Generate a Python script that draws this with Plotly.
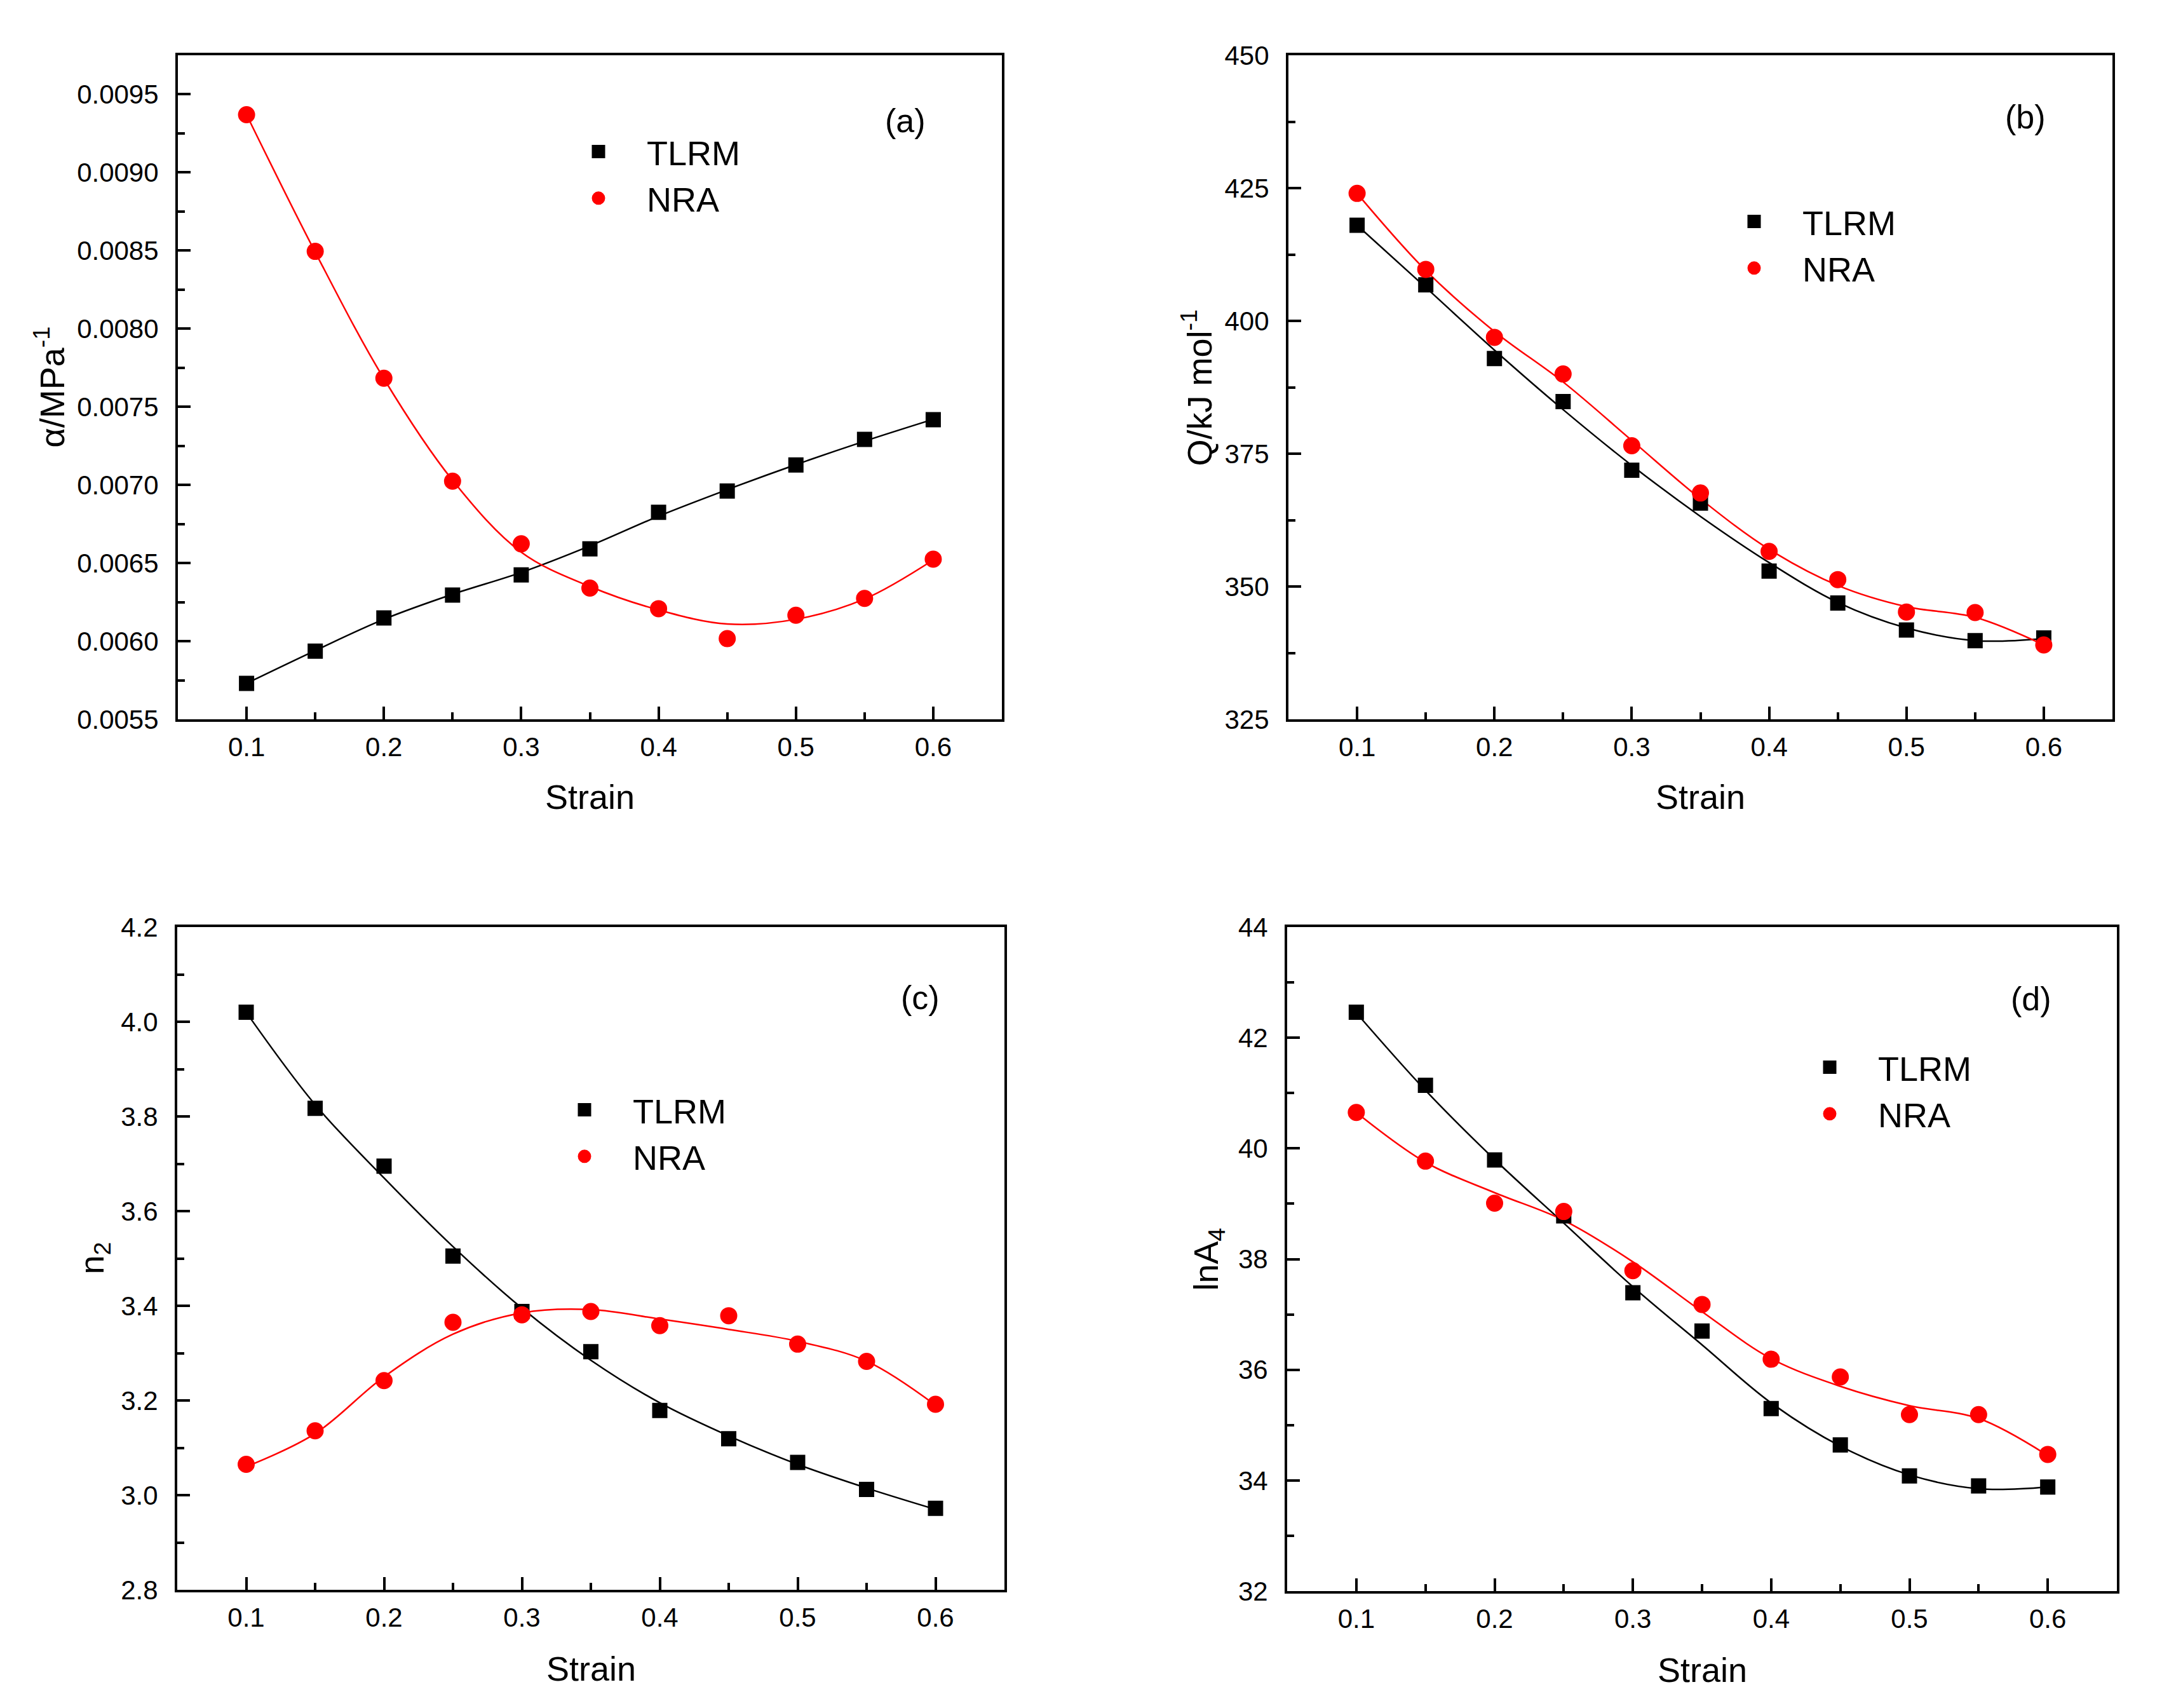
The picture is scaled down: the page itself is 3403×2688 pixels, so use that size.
import plotly.graph_objects as go

# ---------------- data ----------------
strain = [0.1, 0.15, 0.2, 0.25, 0.3, 0.35, 0.4, 0.45, 0.5, 0.55, 0.6]

a_tlrm = [0.00573, 0.005936, 0.006149, 0.006295, 0.006424, 0.006591, 0.006825, 0.006961, 0.007128, 0.007292, 0.007418]
a_tlrm_fit = [0.00573, 0.00594, 0.00614, 0.00630, 0.00644, 0.00661, 0.00680, 0.00697, 0.00713, 0.00728, 0.00742]
a_nra = [0.00937, 0.008495, 0.007683, 0.007024, 0.006623, 0.00634, 0.006208, 0.006016, 0.006166, 0.006274, 0.006525]
a_nra_fit = [0.00937, 0.00849, 0.00768, 0.00703, 0.00657, 0.00635, 0.00620, 0.00611, 0.00614, 0.00627, 0.00652]

b_tlrm = [418, 406.8, 392.9, 384.8, 371.9, 365.7, 352.9, 346.9, 341.8, 339.8, 340.3]
b_tlrm_fit = [418, 406.3, 394.5, 383.3, 372.8, 363.2, 354.5, 347.0, 342.2, 339.8, 340.2]
b_nra = [424, 409.7, 396.9, 390, 376.5, 367.6, 356.6, 351.3, 345.2, 345.1, 339]
b_nra_fit = [424, 409.5, 398, 388.5, 377.5, 366.5, 357, 350.2, 346.2, 344.2, 339]

c_tlrm = [4.020, 3.817, 3.695, 3.505, 3.388, 3.303, 3.179, 3.119, 3.069, 3.012, 2.972]
c_tlrm_fit = [4.02, 3.825, 3.67, 3.525, 3.395, 3.285, 3.195, 3.125, 3.065, 3.015, 2.97]
c_nra = [3.065, 3.136, 3.242, 3.365, 3.381, 3.388, 3.358, 3.379, 3.319, 3.2825, 3.192]
c_nra_fit = [3.06, 3.13, 3.25, 3.34, 3.385, 3.392, 3.372, 3.35, 3.325, 3.283, 3.19]

d_tlrm = [42.46, 41.14, 39.79, 38.78, 37.39, 36.70, 35.30, 34.64, 34.08, 33.90, 33.88]
d_tlrm_fit = [42.45, 41.05, 39.8, 38.65, 37.5, 36.45, 35.4, 34.62, 34.1, 33.85, 33.88]
d_nra = [40.65, 39.77, 39.01, 38.86, 37.79, 37.18, 36.19, 35.87, 35.19, 35.19, 34.47]
d_nra_fit = [40.65, 39.75, 39.2, 38.7, 37.95, 37.05, 36.2, 35.7, 35.35, 35.12, 34.45]

series_names = ["TLRM", "NRA"]
panel_labels = ["(a)", "(b)", "(c)", "(d)"]
y_titles = ["α/MPa<sup>-1</sup>", "Q/kJ mol<sup>-1</sup>", "n<sub>2</sub>", "lnA<sub>4</sub>"]
x_title = "Strain"

y_ranges = [[0.0055, 0.00975], [325, 450], [2.8, 4.2], [32, 44]]
y_dticks = [0.0005, 25, 0.2, 2]
y_formats = [".4f", "d", ".1f", "d"]

# ---------------- layout geometry ----------------
W, H = 3403, 2688
OFF = 8  # page body margin offset of the rendered figure
FONT = "Arial, Liberation Sans, Helvetica, sans-serif"

def px_x(v):
    return (v - OFF) / W

def px_y(v):
    return 1 - (v - OFF) / H

# panel boxes in screen pixels: left, right, top, bottom
boxes = [(280, 1577, 87, 1132), (2028, 3325, 87, 1132),
         (279, 1581, 1459, 2502), (2026, 3332, 1459, 2504)]
ytitle_x = [79, 1885, 147, 1901]
xtitle_y = [1254, 1254, 2626, 2628]
label_pos = [(1425, 190), (3188, 184), (1448, 1570), (3197, 1572)]
legend_marker = [(942, 244), (2761, 354), (920, 1752), (2880, 1685)]

panels = [
    (a_tlrm, a_tlrm_fit, a_nra, a_nra_fit),
    (b_tlrm, b_tlrm_fit, b_nra, b_nra_fit),
    (c_tlrm, c_tlrm_fit, c_nra, c_nra_fit),
    (d_tlrm, d_tlrm_fit, d_nra, d_nra_fit),
]

fig = go.Figure()
annotations = []
layout_extra = {}

for i, (t, tf, n, nf) in enumerate(panels):
    k = "" if i == 0 else str(i + 1)
    xa, ya = "x" + k, "y" + k
    leg = "legend" if i == 0 else "legend" + str(i + 1)
    # fit lines
    fig.add_trace(go.Scatter(x=strain, y=tf, mode="lines", line=dict(color="black", width=2.5, shape="spline"),
                             xaxis=xa, yaxis=ya, showlegend=False, hoverinfo="skip"))
    fig.add_trace(go.Scatter(x=strain, y=nf, mode="lines", line=dict(color="red", width=2.5, shape="spline"),
                             xaxis=xa, yaxis=ya, showlegend=False, hoverinfo="skip"))
    # markers
    fig.add_trace(go.Scatter(x=strain, y=t, mode="markers", name=series_names[0],
                             marker=dict(symbol="square", size=19, color="black", line=dict(color="black", width=5)),
                             xaxis=xa, yaxis=ya, legend=leg))
    fig.add_trace(go.Scatter(x=strain, y=n, mode="markers", name=series_names[1],
                             marker=dict(symbol="circle", size=22, color="red", line=dict(color="red", width=5)),
                             xaxis=xa, yaxis=ya, legend=leg))

    l, r, tp, bt = boxes[i]
    axis_common = dict(showline=True, linecolor="black", linewidth=4, mirror=True,
                       ticks="inside", tickcolor="black", tickwidth=4, ticklen=20,
                       showgrid=False, zeroline=False, automargin=False,
                       tickfont=dict(family=FONT, size=42, color="black"))
    layout_extra["xaxis" + k] = dict(axis_common, domain=[px_x(l), px_x(r)], range=[0.05, 0.65],
                                     dtick=0.1, tick0=0.1, tickformat=".1f", anchor=ya,
                                     ticklabelstandoff=4,
                                     minor=dict(dtick=0.05, tick0=0.05, ticks="inside", ticklen=11,
                                                tickwidth=4, tickcolor="black"))
    layout_extra["yaxis" + k] = dict(axis_common, domain=[px_y(bt), px_y(tp)], range=y_ranges[i],
                                     dtick=y_dticks[i], tick0=y_ranges[i][0], tickformat=y_formats[i],
                                     anchor=xa, ticklabelstandoff=18,
                                     minor=dict(dtick=y_dticks[i] / 2, tick0=y_ranges[i][0], ticks="inside",
                                                ticklen=11, tickwidth=4, tickcolor="black"))
    mx, my = legend_marker[i]
    layout_extra[leg] = dict(x=px_x(mx - 76), y=px_y(my - 47), xanchor="left", yanchor="top",
                             itemwidth=142, bgcolor="rgba(0,0,0,0)", borderwidth=0,
                             font=dict(family=FONT, size=54, color="black"), traceorder="normal",
                             tracegroupgap=0)
    # axis titles and panel label
    annotations.append(dict(text=y_titles[i], x=px_x(ytitle_x[i]), y=px_y((tp + bt) / 2), xref="paper",
                            yref="paper", showarrow=False, textangle=-90, xanchor="center", yanchor="middle",
                            font=dict(family=FONT, size=54, color="black")))
    annotations.append(dict(text=x_title, x=px_x((l + r) / 2), y=px_y(xtitle_y[i]), xref="paper",
                            yref="paper", showarrow=False, xanchor="center", yanchor="middle",
                            font=dict(family=FONT, size=54, color="black")))
    lx, ly = label_pos[i]
    annotations.append(dict(text=panel_labels[i], x=px_x(lx), y=px_y(ly), xref="paper", yref="paper",
                            showarrow=False, xanchor="center", yanchor="middle",
                            font=dict(family=FONT, size=52, color="black")))

fig.update_layout(width=W, height=H, margin=dict(l=0, r=0, t=0, b=0, pad=0, autoexpand=False),
                  paper_bgcolor="white", plot_bgcolor="white",
                  font=dict(family=FONT, color="black"),
                  annotations=annotations, **layout_extra)

fig.write_html("out.html")
